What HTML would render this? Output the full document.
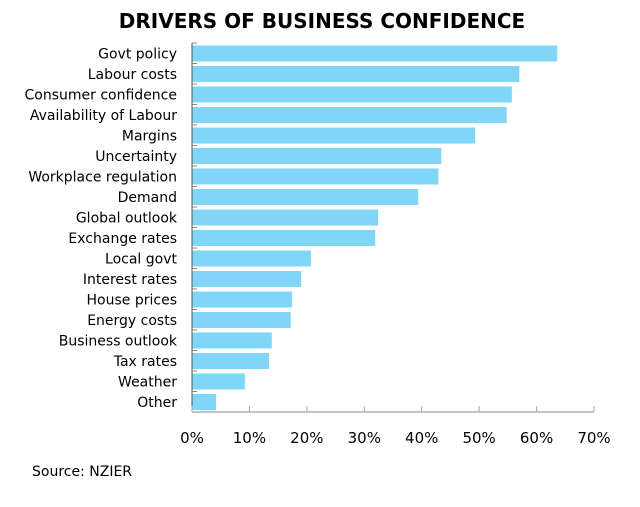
<!DOCTYPE html>
<html><head><meta charset="utf-8"><style>
body{margin:0;background:#fff;width:640px;height:503px;overflow:hidden;font-family:"DejaVu Sans","Liberation Sans",sans-serif;}
</style></head><body>
<svg width="640" height="503">
<text x="322" y="28" text-anchor="middle" font-size="20" font-weight="bold" fill="#000">DRIVERS OF BUSINESS CONFIDENCE</text>
<g id="plot"></g>
<text x="32" y="476" font-size="14" fill="#000">Source: NZIER</text>
</svg>
<script>
const categories=["Govt policy","Labour costs","Consumer confidence","Availability of Labour","Margins","Uncertainty","Workplace regulation","Demand","Global outlook","Exchange rates","Local govt","Interest rates","House prices","Energy costs","Business outlook","Tax rates","Weather","Other"];
const values=[63.6,57.0,55.7,54.8,49.3,43.4,42.9,39.4,32.4,31.9,20.7,19.0,17.4,17.2,13.9,13.4,9.2,4.2];
const ticks=[0,10,20,30,40,50,60,70];
const tickLabels=["0%","10%","20%","30%","40%","50%","60%","70%"];
const NS="http://www.w3.org/2000/svg";
const g=document.getElementById('plot');
const x0=192,x1=594,yTop=43,yBot=412;
const xs=v=>x0+(v/70)*(x1-x0);
const band=(yBot-yTop)/categories.length;
const ys=i=>yTop+i*band;
function mk(t,a){const e=document.createElementNS(NS,t);for(const k in a)e.setAttribute(k,a[k]);g.appendChild(e);return e;}
categories.forEach((c,i)=>{
 const r=mk('rect',{x:x0,y:ys(i)+2.5,width:xs(values[i])-x0,height:band-4.5,fill:'#7fd6f7'});
 
 
 const t=mk('text',{x:177,y:ys(i)+band/2+5,'text-anchor':'end','font-size':14,fill:'#000'});
 t.textContent=c;
 
 
 mk('line',{x1:x0,x2:x0+5,y1:ys(i),y2:ys(i),stroke:'#888','stroke-width':1});
});
const ax=mk('line',{x1:x0,x2:x0,y1:yTop,y2:yBot,stroke:'#555','stroke-width':1});


const bx=mk('line',{x1:x0,x2:x1,y1:yBot,y2:yBot,stroke:'#888','stroke-width':1});


ticks.forEach((v,i)=>{
 mk('line',{x1:xs(v),x2:xs(v),y1:yBot-6,y2:yBot,stroke:'#aaa','stroke-width':1});
 const t=mk('text',{x:xs(v),y:443,'text-anchor':'middle','font-size':15,fill:'#000'});
 t.textContent=tickLabels[i];
 
 
});
</script>
</body></html>
